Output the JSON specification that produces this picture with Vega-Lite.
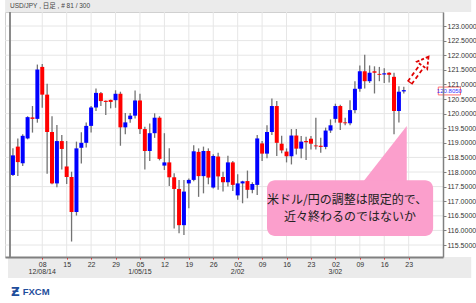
{
  "$schema": "https://vega.github.io/schema/vega-lite/v6.json",
  "width": 438,
  "height": 245,
  "autosize": {"type": "none"},
  "padding": {"left": 5, "top": 12, "right": 33, "bottom": 46},
  "background": "white",
  "data": {"values": [{}]},
  "config": {
    "view": {"stroke": "#d0d0d0"}
  },
  "datasets": {
    "ohlc": [
      {"i":0,"o":117.90,"h":118.81,"l":117.86,"c":118.57},
      {"i":1,"o":118.87,"h":119.15,"l":117.86,"c":118.34},
      {"i":2,"o":118.30,"h":119.29,"l":118.21,"c":119.24},
      {"i":3,"o":119.15,"h":119.91,"l":119.12,"c":119.88},
      {"i":4,"o":119.87,"h":120.26,"l":119.35,"c":119.82},
      {"i":5,"o":119.82,"h":121.68,"l":119.69,"c":121.51},
      {"i":6,"o":121.60,"h":121.70,"l":120.20,"c":120.65},
      {"i":7,"o":120.65,"h":121.02,"l":117.94,"c":119.37},
      {"i":8,"o":119.37,"h":119.91,"l":117.58,"c":117.61},
      {"i":9,"o":117.61,"h":119.61,"l":117.48,"c":119.06},
      {"i":10,"o":119.06,"h":119.27,"l":118.09,"c":118.79},
      {"i":11,"o":118.19,"h":119.06,"l":117.59,"c":117.83},
      {"i":12,"o":117.83,"h":118.01,"l":115.62,"c":116.63},
      {"i":13,"o":116.63,"h":119.04,"l":116.51,"c":118.81},
      {"i":14,"o":118.83,"h":119.36,"l":118.29,"c":119.00},
      {"i":15,"o":119.00,"h":119.70,"l":118.84,"c":119.58},
      {"i":16,"o":119.58,"h":120.26,"l":119.35,"c":120.21},
      {"i":17,"o":120.21,"h":120.86,"l":120.09,"c":120.71},
      {"i":18,"o":120.70,"h":120.74,"l":120.26,"c":120.43},
      {"i":19,"o":120.44,"h":120.45,"l":119.95,"c":120.40},
      {"i":20,"o":120.47,"h":120.48,"l":120.18,"c":120.40},
      {"i":21,"o":120.46,"h":120.80,"l":120.20,"c":120.68},
      {"i":22,"o":120.68,"h":120.75,"l":118.90,"c":119.53},
      {"i":23,"o":119.53,"h":120.02,"l":119.29,"c":119.70},
      {"i":24,"o":119.81,"h":120.02,"l":119.69,"c":119.93},
      {"i":25,"o":119.93,"h":120.79,"l":119.83,"c":120.45},
      {"i":26,"o":120.45,"h":120.68,"l":119.30,"c":119.47},
      {"i":27,"o":119.47,"h":119.55,"l":118.09,"c":118.72},
      {"i":28,"o":118.72,"h":119.66,"l":118.38,"c":119.33},
      {"i":29,"o":119.33,"h":120.01,"l":119.17,"c":119.86},
      {"i":30,"o":119.86,"h":119.91,"l":118.40,"c":118.45},
      {"i":31,"o":118.22,"h":119.33,"l":118.07,"c":118.33},
      {"i":32,"o":118.33,"h":118.81,"l":117.52,"c":117.82},
      {"i":33,"o":117.82,"h":117.96,"l":116.07,"c":117.42},
      {"i":34,"o":117.42,"h":117.73,"l":115.90,"c":116.18},
      {"i":35,"o":116.18,"h":117.73,"l":115.84,"c":117.33},
      {"i":36,"o":117.61,"h":117.78,"l":116.76,"c":117.73},
      {"i":37,"o":117.73,"h":118.92,"l":117.68,"c":118.71},
      {"i":38,"o":118.69,"h":118.81,"l":117.15,"c":117.86},
      {"i":39,"o":117.86,"h":118.87,"l":117.27,"c":118.72},
      {"i":40,"o":118.72,"h":118.81,"l":117.58,"c":117.81},
      {"i":41,"o":117.47,"h":118.61,"l":117.44,"c":118.55},
      {"i":42,"o":118.53,"h":118.66,"l":117.39,"c":117.85},
      {"i":43,"o":117.83,"h":118.01,"l":117.33,"c":117.65},
      {"i":44,"o":117.65,"h":118.56,"l":117.50,"c":118.33},
      {"i":45,"o":118.33,"h":118.38,"l":117.35,"c":117.56},
      {"i":46,"o":117.20,"h":117.92,"l":117.05,"c":117.61},
      {"i":47,"o":117.61,"h":117.70,"l":116.93,"c":117.68},
      {"i":48,"o":117.69,"h":118.05,"l":117.10,"c":117.39},
      {"i":49,"o":117.39,"h":117.65,"l":117.27,"c":117.59},
      {"i":50,"o":117.56,"h":119.27,"l":117.21,"c":119.15},
      {"i":51,"o":118.98,"h":119.06,"l":118.38,"c":118.63},
      {"i":52,"o":118.63,"h":119.60,"l":118.47,"c":119.37},
      {"i":53,"o":119.37,"h":120.52,"l":119.27,"c":120.26},
      {"i":54,"o":120.26,"h":120.43,"l":118.55,"c":119.00},
      {"i":55,"o":118.97,"h":119.24,"l":118.64,"c":118.74},
      {"i":56,"o":118.70,"h":118.81,"l":118.33,"c":118.54},
      {"i":57,"o":118.54,"h":119.47,"l":118.26,"c":119.25},
      {"i":58,"o":119.25,"h":119.47,"l":118.60,"c":118.80},
      {"i":59,"o":118.80,"h":119.23,"l":118.47,"c":119.04},
      {"i":60,"o":119.06,"h":119.21,"l":118.41,"c":119.02},
      {"i":61,"o":119.14,"h":119.23,"l":118.77,"c":118.97},
      {"i":62,"o":118.91,"h":119.86,"l":118.77,"c":118.88},
      {"i":63,"o":118.90,"h":119.17,"l":118.66,"c":118.86},
      {"i":64,"o":118.86,"h":119.52,"l":118.78,"c":119.42},
      {"i":65,"o":119.42,"h":119.80,"l":119.34,"c":119.60},
      {"i":66,"o":119.82,"h":120.34,"l":119.69,"c":120.26},
      {"i":67,"o":120.26,"h":120.30,"l":119.44,"c":119.69},
      {"i":68,"o":119.70,"h":119.86,"l":119.60,"c":119.67},
      {"i":69,"o":119.67,"h":120.46,"l":119.60,"c":120.12},
      {"i":70,"o":120.12,"h":121.11,"l":120.01,"c":120.85},
      {"i":71,"o":120.85,"h":121.65,"l":120.75,"c":121.45},
      {"i":72,"o":121.45,"h":122.02,"l":120.86,"c":121.11},
      {"i":73,"o":121.11,"h":121.65,"l":121.05,"c":121.40},
      {"i":74,"o":121.45,"h":121.62,"l":120.69,"c":121.40},
      {"i":75,"o":121.36,"h":121.60,"l":121.11,"c":121.33},
      {"i":76,"o":121.34,"h":121.55,"l":121.05,"c":121.38},
      {"i":77,"o":121.40,"h":121.42,"l":121.07,"c":121.33},
      {"i":78,"o":121.26,"h":121.40,"l":119.29,"c":120.09},
      {"i":79,"o":120.09,"h":120.94,"l":119.70,"c":120.75},
      {"i":80,"o":120.76,"h":120.92,"l":120.69,"c":120.805}
    ],
    "ygrid": [{"v":115.5},{"v":116},{"v":116.5},{"v":117},{"v":117.5},{"v":118},{"v":118.5},{"v":119},{"v":119.5},{"v":120},{"v":120.5},{"v":121},{"v":121.5},{"v":122},{"v":122.5},{"v":123}],
    "xgrid": [{"v":6},{"v":11},{"v":16},{"v":21},{"v":26},{"v":31},{"v":36},{"v":41},{"v":46},{"v":51},{"v":56},{"v":61},{"v":66},{"v":71},{"v":76},{"v":81}],
    "months": [{"v":6,"m":"12/08/14"},{"v":26,"m":"1/05/15"},{"v":46,"m":"2/02"},{"v":66,"m":"3/02"}]
  },
  "layer": [
    {
      "mark": {"type": "rect", "color": "#ebebeb"},
      "encoding": {
        "x": {
          "datum": -1.6, "type": "quantitative",
          "scale": {"domain": [-0.6, 87], "nice": false, "zero": false},
          "axis": {
            "orient": "bottom", "title": null, "grid": false, "zindex": 1,
            "values": [6,11,16,21,26,31,36,41,46,51,56,61,66,71,76,81],
            "tickCount": 100,
            "labelExpr": "['08','15','22','29','05','12','19','26','02','09','16','23','02','09','16','23'][round((datum.value-6)/5)]",
            "domainColor": "#808080", "domainWidth": 2,
            "tickColor": "#ff0000", "tickSize": 2, "tickWidth": 1,
            "labelFont": "Liberation Sans", "labelFontSize": 7, "labelColor": "#333333",
            "labelPadding": 1, "labelFlush": false, "labelOverlap": false, "labelBound": false
          }
        },
        "x2": {"datum": 93.8},
        "y": {
          "datum": 123.48, "type": "quantitative",
          "scale": {"domain": [115.09, 123.48], "nice": false, "zero": false},
          "axis": {
            "orient": "right", "title": null, "grid": false, "zindex": 1,
            "values": [115.5,116,116.5,117,117.5,118,118.5,119,119.5,120,120.5,121,121.5,122,122.5,123],
            "tickCount": 100,
            "format": ".4f",
            "domainColor": "#808080", "domainWidth": 1.5,
            "tickColor": "#808080", "tickSize": 3,
            "labelFont": "Liberation Sans", "labelFontSize": 7, "labelColor": "#333333",
            "labelPadding": 1, "labelFlush": false, "labelOverlap": false, "labelBound": false
          }
        },
        "y2": {"datum": 123.89}
      }
    },
    {
      "mark": {"type": "text", "text": "USD/JPY , 日足 , # 81 / 300", "font": "Liberation Sans, Noto Sans CJK JP", "fontSize": 6.5, "color": "#444444", "align": "left", "baseline": "middle"},
      "encoding": {
        "x": {"datum": -0.6, "type": "quantitative", "scale": {"domain": [-0.6, 87], "nice": false, "zero": false}},
        "y": {"datum": 123.68, "type": "quantitative", "scale": {"domain": [115.09, 123.48], "nice": false, "zero": false}}
      }
    },
    {
      "mark": {"type": "rect", "color": "#ebebeb"},
      "encoding": {
        "x": {"datum": -1.0, "type": "quantitative", "scale": {"domain": [-0.6, 87], "nice": false, "zero": false}},
        "x2": {"datum": 93.8},
        "y": {"datum": 115.09, "type": "quantitative", "scale": {"domain": [115.09, 123.48], "nice": false, "zero": false}},
        "y2": {"datum": 114.37}
      }
    },
    {
      "data": {"name": "months"},
      "mark": {"type": "text", "font": "Liberation Sans", "fontSize": 7, "color": "#333333", "align": "center", "baseline": "middle"},
      "encoding": {
        "x": {"field": "v", "type": "quantitative", "scale": {"domain": [-0.6, 87], "nice": false, "zero": false}},
        "y": {"datum": 114.57, "type": "quantitative", "scale": {"domain": [115.09, 123.48], "nice": false, "zero": false}},
        "text": {"field": "m"}
      }
    },
    {
      "data": {"name": "xgrid"},
      "mark": {"type": "rule", "color": "#e6e6e6", "strokeWidth": 1},
      "encoding": {
        "x": {"field": "v", "type": "quantitative", "scale": {"domain": [-0.6, 87], "nice": false, "zero": false}}
      }
    },
    {
      "data": {"name": "ygrid"},
      "mark": {"type": "rule", "color": "#e6e6e6", "strokeWidth": 1},
      "encoding": {
        "y": {"field": "v", "type": "quantitative", "scale": {"domain": [115.09, 123.48], "nice": false, "zero": false}}
      }
    },
    {
      "mark": {"type": "rule", "color": "#8a8a8a", "strokeWidth": 2},
      "encoding": {
        "x": {"datum": -0.6, "type": "quantitative", "scale": {"domain": [-0.6, 87], "nice": false, "zero": false}}
      }
    },
    {
      "data": {"name": "ohlc"},
      "mark": {"type": "rule", "color": "#737373", "strokeWidth": 1.3},
      "encoding": {
        "x": {"field": "i", "type": "quantitative", "scale": {"domain": [-0.6, 87], "nice": false, "zero": false}},
        "y": {"field": "l", "type": "quantitative", "scale": {"domain": [115.09, 123.48], "nice": false, "zero": false}},
        "y2": {"field": "h"}
      }
    },
    {
      "data": {"name": "ohlc"},
      "mark": {"type": "bar", "size": 4},
      "encoding": {
        "x": {"field": "i", "type": "quantitative", "scale": {"domain": [-0.6, 87], "nice": false, "zero": false}},
        "y": {"field": "o", "type": "quantitative", "scale": {"domain": [115.09, 123.48], "nice": false, "zero": false}},
        "y2": {"field": "c"},
        "color": {"condition": {"test": "datum.c >= datum.o", "value": "#0000ff"}, "value": "#ff0000"}
      }
    },
    {
      "data": {"values": [{"px": 71.8, "py": 117.69, "pb": 117.69}, {"px": 80.6, "py": 119.58, "pb": 117.69}]},
      "mark": {"type": "area", "color": "#fb9fcc", "opacity": 1},
      "encoding": {
        "x": {"field": "px", "type": "quantitative", "scale": {"domain": [-0.6, 87], "nice": false, "zero": false}},
        "y": {"field": "py", "type": "quantitative", "scale": {"domain": [115.09, 123.48], "nice": false, "zero": false}},
        "y2": {"field": "pb"}
      }
    },
    {
      "mark": {"type": "rect", "color": "#fb9fcc", "cornerRadius": 8},
      "encoding": {
        "x": {"datum": 52, "type": "quantitative", "scale": {"domain": [-0.6, 87], "nice": false, "zero": false}},
        "x2": {"datum": 86},
        "y": {"datum": 117.72, "type": "quantitative", "scale": {"domain": [115.09, 123.48], "nice": false, "zero": false}},
        "y2": {"datum": 115.81}
      }
    },
    {
      "mark": {"type": "text", "text": "米ドル/円の調整は限定的で、", "font": "Noto Sans CJK JP", "fontSize": 12, "color": "#222222", "align": "center", "baseline": "middle"},
      "encoding": {
        "x": {"datum": 68.4, "type": "quantitative", "scale": {"domain": [-0.6, 87], "nice": false, "zero": false}},
        "y": {"datum": 117.04, "type": "quantitative", "scale": {"domain": [115.09, 123.48], "nice": false, "zero": false}}
      }
    },
    {
      "mark": {"type": "text", "text": "近々終わるのではないか", "font": "Noto Sans CJK JP", "fontSize": 12, "color": "#222222", "align": "center", "baseline": "middle"},
      "encoding": {
        "x": {"datum": 69.0, "type": "quantitative", "scale": {"domain": [-0.6, 87], "nice": false, "zero": false}},
        "y": {"datum": 116.46, "type": "quantitative", "scale": {"domain": [115.09, 123.48], "nice": false, "zero": false}}
      }
    },
    {
      "mark": {"type": "rule", "color": "#e00000", "strokeWidth": 6.5, "strokeDash": [4, 3]},
      "encoding": {
        "x": {"datum": 81.2, "type": "quantitative", "scale": {"domain": [-0.6, 87], "nice": false, "zero": false}},
        "y": {"datum": 121.05, "type": "quantitative", "scale": {"domain": [115.09, 123.48], "nice": false, "zero": false}},
        "x2": {"datum": 83.8},
        "y2": {"datum": 121.66}
      }
    },
    {
      "mark": {"type": "rule", "color": "#ffffff", "strokeWidth": 3},
      "encoding": {
        "x": {"datum": 81.35, "type": "quantitative", "scale": {"domain": [-0.6, 87], "nice": false, "zero": false}},
        "y": {"datum": 121.09, "type": "quantitative", "scale": {"domain": [115.09, 123.48], "nice": false, "zero": false}},
        "x2": {"datum": 83.9},
        "y2": {"datum": 121.68}
      }
    },
    {
      "mark": {"type": "point", "shape": "triangle-up", "filled": true, "fill": "#ffffff", "stroke": "#e00000", "strokeWidth": 1.8, "strokeDash": [3, 2], "size": 160, "angle": 36, "opacity": 1},
      "encoding": {
        "x": {"datum": 84.4, "type": "quantitative", "scale": {"domain": [-0.6, 87], "nice": false, "zero": false}},
        "y": {"datum": 121.80, "type": "quantitative", "scale": {"domain": [115.09, 123.48], "nice": false, "zero": false}}
      }
    },
    {
      "mark": {"type": "rect", "fill": "#ffffff", "stroke": "#ff7070", "strokeWidth": 1},
      "encoding": {
        "x": {"datum": 87.06, "type": "quantitative", "scale": {"domain": [-0.6, 87], "nice": false, "zero": false}},
        "x2": {"datum": 91.6},
        "y": {"datum": 120.91, "type": "quantitative", "scale": {"domain": [115.09, 123.48], "nice": false, "zero": false}},
        "y2": {"datum": 120.64}
      }
    },
    {
      "mark": {"type": "text", "text": "120.8050", "font": "Liberation Sans", "fontSize": 6, "color": "#3333ff", "align": "center", "baseline": "middle"},
      "encoding": {
        "x": {"datum": 89.33, "type": "quantitative", "scale": {"domain": [-0.6, 87], "nice": false, "zero": false}},
        "y": {"datum": 120.78, "type": "quantitative", "scale": {"domain": [115.09, 123.48], "nice": false, "zero": false}}
      }
    },
    {
      "mark": {"type": "text", "text": "Ƶ", "font": "DejaVu Sans", "fontSize": 12, "fontWeight": "bold", "color": "#1f4e9c", "align": "left", "baseline": "middle"},
      "encoding": {
        "x": {"datum": -0.4, "type": "quantitative", "scale": {"domain": [-0.6, 87], "nice": false, "zero": false}},
        "y": {"datum": 113.89, "type": "quantitative", "scale": {"domain": [115.09, 123.48], "nice": false, "zero": false}}
      }
    },
    {
      "mark": {"type": "text", "text": "FXCM", "font": "Liberation Sans", "fontSize": 9.5, "fontWeight": "bold", "color": "#1f4e9c", "align": "left", "baseline": "middle"},
      "encoding": {
        "x": {"datum": 2.0, "type": "quantitative", "scale": {"domain": [-0.6, 87], "nice": false, "zero": false}},
        "y": {"datum": 113.89, "type": "quantitative", "scale": {"domain": [115.09, 123.48], "nice": false, "zero": false}}
      }
    }
  ]
}
